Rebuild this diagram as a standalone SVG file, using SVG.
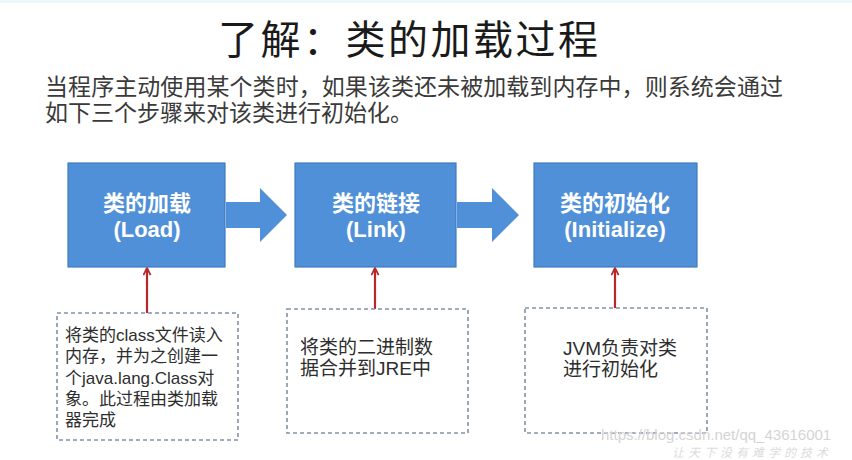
<svg xmlns="http://www.w3.org/2000/svg" width="852" height="460" viewBox="0 0 852 460">
<style>
.cjk{font-family:"Liberation Sans","Noto Sans CJK SC",sans-serif;}
.title{font-size:40px;fill:#1a1a1a;}
.para{font-size:23px;fill:#3a3a3a;}
.step{fill:#4f90d8;stroke:#3f7cc0;stroke-width:1.2;}
.flow{fill:#4f90d8;}
.lbl{font-size:22px;font-weight:bold;fill:#ffffff;text-anchor:middle;}
.note{fill:none;stroke:#8391a8;stroke-width:1.6;stroke-dasharray:4 3;}
.ntxt{fill:#2e2e2e;}
.red{stroke:#b8282a;stroke-width:2.2;fill:none;}
.wm{font-size:15px;fill:#d4d4d4;}
</style>
<defs>
<marker id="ah" viewBox="0 0 10 10" refX="9" refY="5" markerWidth="9" markerHeight="9" markerUnits="userSpaceOnUse" orient="auto">
<polyline points="1,1 9,5 1,9" fill="none" stroke="#b8282a" stroke-width="2"/>
</marker>
</defs>
<rect x="0" y="0" width="852" height="460" fill="#ffffff"/>
<rect x="0" y="0" width="852" height="3" fill="#eaf8fc"/>

<text class="cjk title" x="218" y="54" textLength="380">了解：类的加载过程</text>
<text class="cjk para" x="45" y="95" textLength="738">当程序主动使用某个类时，如果该类还未被加载到内存中，则系统会通过</text>
<text class="cjk para" x="45" y="121">如下三个步骤来对该类进行初始化。</text>

<g id="connectors">
<polygon class="flow" points="226,202 260,202 260,188 287,215 260,242 260,228 226,228"/>
<polygon class="flow" points="457,202 492,202 492,188 519,215 492,242 492,228 457,228"/>
<line class="red" x1="147" y1="313" x2="147" y2="268" marker-end="url(#ah)"/>
<line class="red" x1="375" y1="309" x2="375" y2="268" marker-end="url(#ah)"/>
<line class="red" x1="615" y1="308" x2="615" y2="268" marker-end="url(#ah)"/>
</g>

<g id="load">
<rect class="step" x="68" y="163" width="157" height="104"/>
<text class="cjk lbl" x="147" y="211">类的加载</text>
<text class="cjk lbl" x="147" y="237">(Load)</text>
</g>
<g id="link">
<rect class="step" x="295" y="163" width="161" height="104"/>
<text class="cjk lbl" x="376" y="211">类的链接</text>
<text class="cjk lbl" x="376" y="237">(Link)</text>
</g>
<g id="init">
<rect class="step" x="534" y="163" width="163" height="104"/>
<text class="cjk lbl" x="615" y="211">类的初始化</text>
<text class="cjk lbl" x="615" y="237">(Initialize)</text>
</g>

<g id="note-load">
<rect class="note" x="57" y="313" width="181" height="127"/>
<text class="cjk ntxt" font-size="17" x="65" y="341">将类的class文件读入</text>
<text class="cjk ntxt" font-size="17" x="65" y="362">内存，并为之创建一</text>
<text class="cjk ntxt" font-size="17" x="65" y="384">个java.lang.Class对</text>
<text class="cjk ntxt" font-size="17" x="65" y="405">象。此过程由类加载</text>
<text class="cjk ntxt" font-size="17" x="65" y="426">器完成</text>
</g>
<g id="note-link">
<rect class="note" x="287" y="309" width="181" height="124"/>
<text class="cjk ntxt" font-size="19" x="300" y="354">将类的二进制数</text>
<text class="cjk ntxt" font-size="19" x="300" y="375">据合并到JRE中</text>
</g>
<g id="note-init">
<rect class="note" x="525" y="308" width="182" height="125"/>
<text class="cjk ntxt" font-size="19" x="563" y="355">JVM负责对类</text>
<text class="cjk ntxt" font-size="19" x="563" y="376">进行初始化</text>
</g>

<text class="cjk wm" x="601" y="440">https://blog.csdn.net/qq_43616001</text>
<text font-family="'Noto Sans CJK SC',serif" font-size="12" font-style="italic" fill="#dcdcdc" x="672" y="457" letter-spacing="4">让天下没有难学的技术</text>
</svg>
